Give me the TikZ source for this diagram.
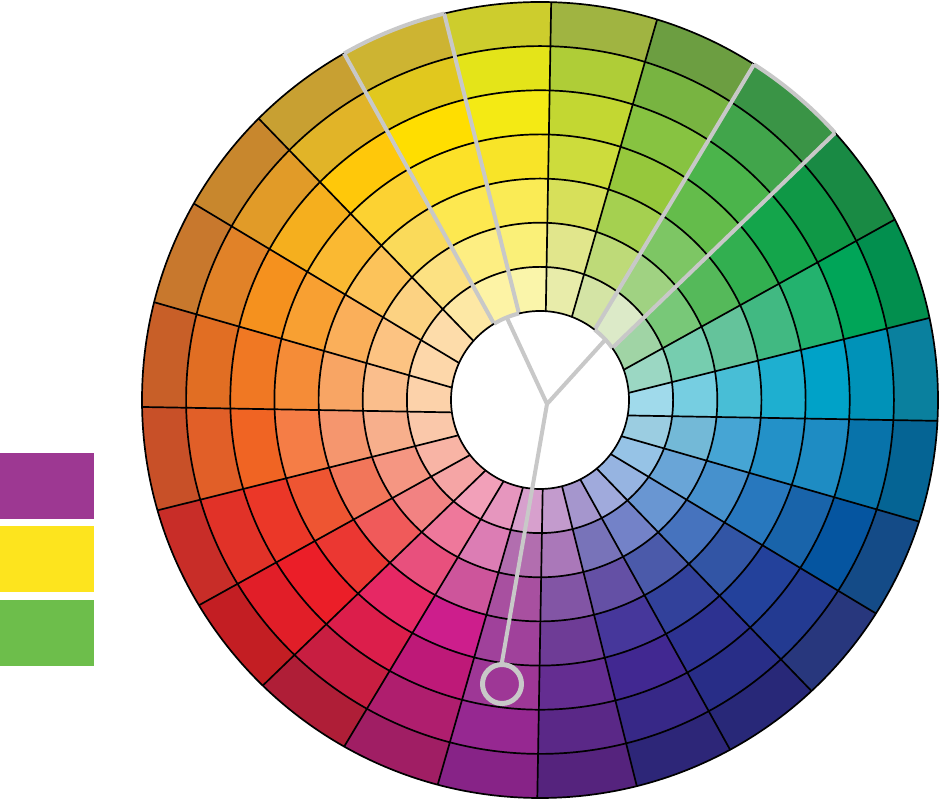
\documentclass[tikz,border=0pt]{standalone}
\begin{document}
\begin{tikzpicture}[x=1pt,y=1pt,
  blk/.style={draw=black, line width=1.7pt},
  gry/.style={draw=hl, line width=4pt},
  swatch/.style={inner sep=0pt, minimum width=94pt, minimum height=66pt, anchor=south west}]
\definecolor{hl}{HTML}{C8C8C8}
\definecolor{swpurple}{HTML}{9D3892}
\definecolor{swyellow}{HTML}{FDE41E}
\definecolor{swgreen}{HTML}{6DBE4B}
\useasboundingbox (0,0) rectangle (940,800);
\coordinate (Cc) at (540,400);
\coordinate (Cr) at (544,386);
% sector fills
\foreach \k/\qa/\qb/\qc/\qd/\qe/\qf/\qg in {0/A0DAEB/76CEE1/48BED6/1EAFD0/00A2C8/0092B8/0A809E,
1/9BD7C3/76CDAF/64C39B/41B982/23B26E/00A558/028F4E,
2/A0D4A5/78C878/55B95A/32AF50/14A54B/0F9846/198A44,
3/DCEAC8/A0D282/7DC664/64BC4B/4BB44B/41A54B/3A9446,
4/D4E4A5/BEDA78/A5D050/96C83C/87C341/78B441/6C9E41,
5/E8ECAA/E1E68C/D7E05A/CDDC3C/C3D732/AFCD37/A0B441,
6/FAF5AA/FAF078/FAEB55/F8E428/F4EA14/E4E419/CDCD2D,
7/FDF3A5/FDEE82/FDE850/FCE128/FFDE00/E1C81E/CDB432,
8/FDE8A5/FCE182/FADA5A/FCD232/FFC80A/E1B428/C8A032,
9/FDDCAA/FCD282/FCC35A/FAB932/F5AF1E/E19B28/C8872D,
10/FDD7AA/FCC382/FAAF5A/F8A032/F5911E/E18228/C8782D,
11/FCD2AA/FABE8C/F8A564/F58C37/F07823/E16E23/C85F28,
12/FAC8AA/F7AF8C/F5966E/F57D46/F06423/E15F28/C85028,
13/F8B4A5/F59682/F2765A/EE5532/EB3728/E13228/C82D28,
14/F5A5A5/F28282/F05A5A/EB3732/EB1E28/E11E28/C31E23,
15/F2A0B9/EE789B/E8507D/E62864/DC1E4B/C81E41/AF1E37,
16/E696BE/DC7DB4/CD559B/CD1E8C/BE1978/AF1E6E/A01E64,
17/D7A0CD/B26EAF/A850A0/A0419B/9E3796/962891/872387,
18/C39BCD/AA78B9/8255A5/6E3C96/642D91/5A2887/55237D,
19/A596CD/7873B9/6450A5/46379B/412891/372887/2D2678,
20/A0AADC/7382C8/4B5AAA/32419B/2D3291/282D87/282878,
21/96B4E1/6996D2/4673BE/3255A5/23419B/233A91/28377D,
22/96C3E6/69A5D7/4691CD/2878BE/1964AA/0555A0/144B87,
23/9BCDE1/73B9D7/46A5D4/2391C8/1E8CC3/0873AA/056494}{
  \definecolor{wa}{HTML}{\qa}\definecolor{wb}{HTML}{\qb}\definecolor{wc}{HTML}{\qc}
  \definecolor{wd}{HTML}{\qd}\definecolor{we}{HTML}{\qe}\definecolor{wf}{HTML}{\qf}
  \definecolor{wg}{HTML}{\qg}
  \begin{scope}
    \clip (Cr) -- +(\k*15-1:600) -- +(\k*15+6.5:650) -- +(\k*15+14:600) -- cycle;
    \fill[wg] (Cc) circle (398);
    \fill[wf] (Cc) circle (353.9);
    \fill[we] (Cc) circle (309.7);
    \fill[wd] (Cc) circle (265.6);
    \fill[wc] (Cc) circle (221.4);
    \fill[wb] (Cc) circle (177.3);
    \fill[wa] (Cc) circle (133.1);
  \end{scope}
}
% black radial lines
\begin{scope}
  \clip (Cc) circle (398);
  \foreach \k in {0,...,23} \draw[blk] (Cr) -- +(\k*15-1:600);
\end{scope}
% black rings
\foreach \r in {133.1,177.3,221.4,265.6,309.7,353.9,398} \draw[blk] (Cc) circle (\r);
% gray sector outlines: radial edges
\begin{scope}
  \clip (Cc) circle (398);
  \draw[gry] (Cr) -- +(44:600) (Cr) -- +(59:600) (Cr) -- +(104:600) (Cr) -- +(119:600);
\end{scope}
% gray outer arcs
\foreach \a in {44,104}{
  \begin{scope}
    \clip (Cr) -- +(\a:600) -- +(\a+7.5:650) -- +(\a+15:600) -- cycle;
    \draw[gry] (Cc) circle (398);
  \end{scope}
}
% white centre
\filldraw[fill=white, blk] (Cc) circle (89);
% gray inner arcs
\foreach \a in {44,104}{
  \begin{scope}
    \clip (Cr) -- +(\a:600) -- +(\a+7.5:650) -- +(\a+15:600) -- cycle;
    \draw[gry] (Cc) circle (89);
  \end{scope}
}
% pointer
\coordinate (J) at (547,396);
\coordinate (PY) at (507,482);
\coordinate (PG) at (605,460);
\node[circle, draw=hl, line width=5pt, minimum size=39pt, inner sep=0pt] (ring) at (502,116) {};
\draw[gry, line cap=round, line join=round] (PY) -- (J) -- (PG) (J) -- (ring.north);
% swatches
\node[swatch, fill=swpurple] (s1) at (0,281) {};
\node[swatch, fill=swyellow] (s2) at (0,208) {};
\node[swatch, fill=swgreen] (s3) at (0,134) {};
\end{tikzpicture}
\end{document}
